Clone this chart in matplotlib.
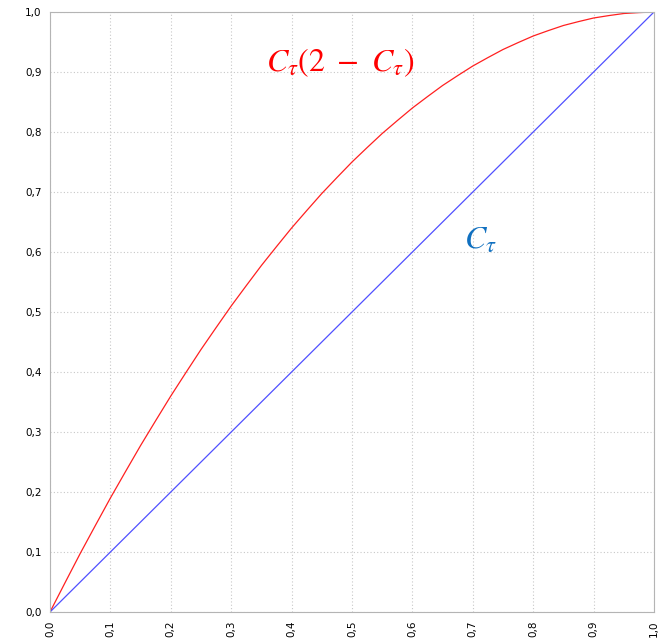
import numpy as np
import matplotlib.pyplot as plt

plt.rcParams['mathtext.fontset'] = 'stix'

# valeurs
x_vals = [0.0, 0.025, 0.05, 0.075, 0.1, 0.125, 0.15, 0.175, 0.2, 0.225, 0.25,
          0.275, 0.3, 0.325, 0.35, 0.375, 0.4, 0.425, 0.45, 0.475, 0.5,
          0.525, 0.55, 0.575, 0.6, 0.625, 0.65, 0.675, 0.7, 0.725, 0.75,
          0.775, 0.8, 0.825, 0.85, 0.875, 0.9, 0.925, 0.95, 0.975, 1.0]
y_rouge = [0.0, 0.049, 0.0975, 0.144, 0.19, 0.234, 0.2775, 0.319, 0.36, 0.399, 0.4375,
           0.474, 0.51, 0.544, 0.5775, 0.609, 0.64, 0.669, 0.6975, 0.724, 0.75,
           0.774, 0.7975, 0.819, 0.84, 0.859, 0.8775, 0.894, 0.91, 0.924, 0.9375,
           0.949, 0.96, 0.969, 0.9775, 0.984, 0.99, 0.994, 0.9975, 0.999, 1.0]
x_bleu = [0.0, 1.0]
y_bleu = [0.0, 1.0]

ticks = [0.0, 0.1, 0.2, 0.3, 0.4, 0.5, 0.6, 0.7, 0.8, 0.9, 1.0]
tick_labels = [f"{t:.1f}".replace(".", ",") for t in ticks]

fig = plt.figure(figsize=(6.59, 6.41), dpi=100)
fig.patch.set_facecolor('white')
ax = fig.add_axes([50/659, 29/641, 604/659, 600/641])

ax.plot(x_vals, y_rouge, color='#ff2020', lw=0.9)
ax.plot(x_bleu, y_bleu, color='#5050ff', lw=0.9)

ax.set_xlim(0, 1)
ax.set_ylim(0, 1)
ax.set_xticks(ticks)
ax.set_yticks(ticks)
ax.set_xticklabels(tick_labels, rotation=90, fontsize=7.5)
ax.set_yticklabels(tick_labels, fontsize=7.5)
ax.tick_params(length=0, pad=6)
ax.grid(True, linestyle=(0, (1, 2)), color='#c8c8c8', lw=0.8)

for s in ax.spines.values():
    s.set_color('#b4b4b4')

# étiquettes des courbes
ax.text(0.48, 0.915, r'$C_\tau(2\ -\ C_\tau)$', color='red', fontsize=23,
        ha='center', va='center')
ax.text(0.712, 0.62, r'$C_\tau$', color='#1070c0', fontsize=23,
        ha='center', va='center')

plt.savefig('out.png', dpi=100)
